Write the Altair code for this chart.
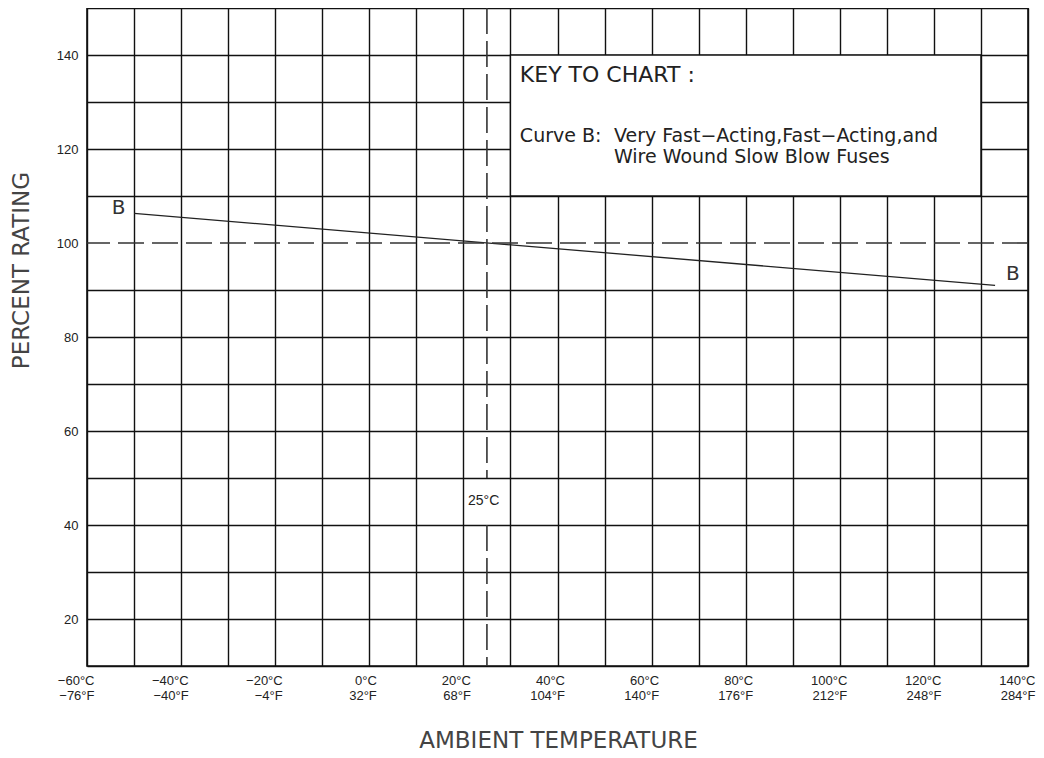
import json
import altair as alt
import pandas as pd

# ---------------- data ----------------
x_grid = list(range(-60, 141, 10))
x_label_vals = [-60, -40, -20, 0, 20, 40, 60, 80, 100, 120, 140]
c_labels = ["−60°C", "−40°C", "−20°C", "0°C", "20°C", "40°C", "60°C", "80°C", "100°C", "120°C", "140°C"]
f_labels = ["−76°F", "−40°F", "−4°F", "32°F", "68°F", "104°F", "140°F", "176°F", "212°F", "248°F", "284°F"]
y_grid = list(range(10, 151, 10))
y_label_vals = [20, 40, 60, 80, 100, 120, 140]

curve_temp = [-50, 133]
curve_rating = [106.3, 91.0]

ref_temp = 25
ref_rating = 100

key_title = "KEY TO CHART :"
key_curve = "Curve B:"
key_desc = ["Very Fast−Acting,Fast−Acting,and", "Wire Wound Slow Blow Fuses"]

# ---------------- scales / axes ----------------
tv = json.dumps(x_label_vals)
cl = json.dumps(c_labels, ensure_ascii=False)
fl = json.dumps(f_labels, ensure_ascii=False)
x_expr = (f"indexof({tv}, datum.value) < 0 ? '' : "
          f"[{cl}[indexof({tv}, datum.value)], {fl}[indexof({tv}, datum.value)]]")
yv = json.dumps(y_label_vals)
y_expr = f"indexof({yv}, datum.value) < 0 ? '' : datum.label"

x_axis = alt.Axis(values=x_grid, labelExpr=x_expr, grid=True, gridColor="#111",
                  gridWidth=1.4, gridOpacity=1, domain=False, ticks=False,
                  labelFont="Liberation Sans", labelFontSize=13, labelColor="#222",
                  labelAlign="right", labelBaseline="top", labelPadding=8,
                  labelLineHeight=15, labelOffset=7, labelFlush=False,
                  labelOverlap=False, labelBound=False,
                  title="AMBIENT  TEMPERATURE", titleFont="DejaVu Sans",
                  titleFontSize=23, titleFontWeight="normal", titleColor="#444",
                  titleX=471, titleY=74, titleBaseline="middle", titleAlign="center")
y_axis = alt.Axis(values=y_grid, labelExpr=y_expr, grid=True, gridColor="#111",
                  gridWidth=1.4,
                  gridOpacity={"condition": {"test": f"datum.value === {ref_rating}", "value": 0}, "value": 1},
                  domain=False, ticks=False,
                  labelFont="Liberation Sans", labelFontSize=13, labelColor="#222",
                  labelPadding=9, labelOverlap=False, labelBound=False, labelFlush=False,
                  title="PERCENT RATING", titleFont="DejaVu Sans", titleFontSize=23,
                  titleFontWeight="normal", titleColor="#444", titleAngle=270,
                  titleX=-66, titleY=262, titleBaseline="middle", titleAlign="center")

X = alt.X("temp:Q", scale=alt.Scale(domain=[-60, 140], nice=False, zero=False), axis=x_axis)
Y = alt.Y("rating:Q", scale=alt.Scale(domain=[10, 150], nice=False, zero=False), axis=y_axis)

# ---------------- layers ----------------
curve_df = pd.DataFrame({"temp": curve_temp, "rating": curve_rating})
curve = alt.Chart(curve_df).mark_line(color="#222", strokeWidth=1.3).encode(x=X, y=Y)

hdash = alt.Chart(pd.DataFrame({"rating": [ref_rating]})).mark_rule(
    color="#333", strokeWidth=1.6, strokeDash=[26, 8]).encode(y=Y)

vdash_df = pd.DataFrame({"temp": [ref_temp, ref_temp], "rating": [150, 40], "rating2": [50, 10]})
vdash = alt.Chart(vdash_df).mark_rule(color="#333", strokeWidth=1.6, strokeDash=[26, 7]).encode(
    x=X, y=Y, y2="rating2:Q")

box_df = pd.DataFrame({"temp": [30], "temp2": [130], "rating": [110], "rating2": [140]})
box = alt.Chart(box_df).mark_rect(fill="white", stroke="#111", strokeWidth=1.4).encode(
    x=X, x2="temp2:Q", y=Y, y2="rating2:Q")

key_df = pd.DataFrame({"temp": [32.0], "rating": [135.8], "label": [key_title]})
key_txt = alt.Chart(key_df).mark_text(align="left", baseline="middle", font="DejaVu Sans",
                                       fontSize=22, color="#222").encode(x=X, y=Y, text="label:N")

curve_lbl_df = pd.DataFrame({"temp": [32.0], "rating": [122.85], "label": [key_curve]})
curve_lbl = alt.Chart(curve_lbl_df).mark_text(align="left", baseline="middle", font="DejaVu Sans",
                                               fontSize=19, color="#222").encode(x=X, y=Y, text="label:N")

desc_df = pd.DataFrame({"temp": [52.0, 52.0], "rating": [122.85, 118.4], "label": key_desc})
desc = alt.Chart(desc_df).mark_text(align="left", baseline="middle", font="DejaVu Sans",
                                     fontSize=19, color="#222").encode(x=X, y=Y, text="label:N")

b_df = pd.DataFrame({"temp": [-53.3, 136.8], "rating": [107.4, 93.4], "label": ["B", "B"]})
b_txt = alt.Chart(b_df).mark_text(align="center", baseline="middle", font="DejaVu Sans",
                                   fontSize=20, color="#333").encode(x=X, y=Y, text="label:N")

t25_df = pd.DataFrame({"temp": [24.3], "rating": [45.2], "label": ["25°C"]})
t25 = alt.Chart(t25_df).mark_text(align="center", baseline="middle", font="Liberation Sans",
                                   fontSize=14, color="#222").encode(x=X, y=Y, text="label:N")

chart = alt.layer(curve, hdash, vdash, box, key_txt, curve_lbl, desc, b_txt, t25).properties(
    width=941, height=658,
    autosize=alt.AutoSizeParams(type="none"),
    padding={"left": 79, "top": 0, "right": 8, "bottom": 92},
    background="white",
).configure_view(stroke="#111", strokeWidth=1.6)

chart.save("out.html", embed_options={"renderer": "svg", "actions": False})
